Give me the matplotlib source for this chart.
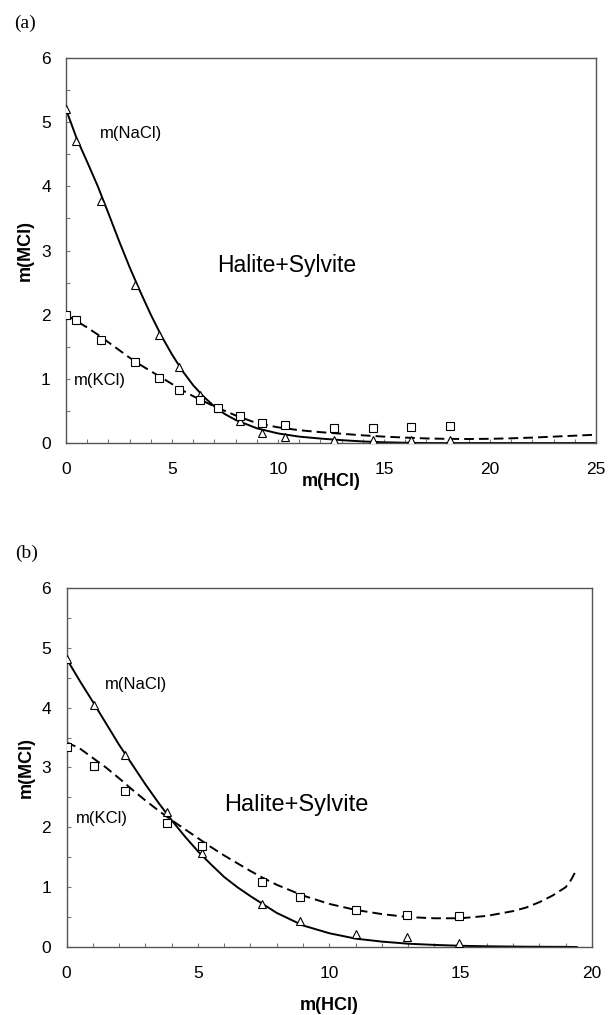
import matplotlib
matplotlib.use("Agg")
import matplotlib.pyplot as plt
from matplotlib.ticker import MultipleLocator

plt.rcParams['font.family'] = ['Liberation Sans', 'DejaVu Sans']

# ---------------- Panel (a) data ----------------
a_hcl = [0.0, 0.48, 1.66, 3.25, 4.39, 5.34, 6.31, 7.17, 8.19, 9.23, 10.35, 12.65, 14.48, 16.27, 18.1]
a_nacl = [5.2, 4.71, 3.78, 2.46, 1.68, 1.19, 0.75, 0.54, 0.34, 0.16, 0.10, 0.05, 0.04, 0.05, 0.05]
a_kcl = [1.99, 1.91, 1.61, 1.27, 1.02, 0.83, 0.67, 0.54, 0.42, 0.32, 0.28, 0.24, 0.23, 0.25, 0.27]

a_fit_x = [0, 0.5, 1, 1.5, 2, 2.5, 3, 3.5, 4, 4.5, 5, 5.5, 6, 6.5, 7, 7.5, 8, 9, 10, 11, 12, 13,
           14, 15, 16, 17, 18, 19, 20, 21, 22, 23, 24, 25]
a_fit_nacl = [5.2, 4.75, 4.38, 4.0, 3.58, 3.15, 2.74, 2.36, 2.0, 1.67, 1.38, 1.12, 0.9, 0.72, 0.57,
              0.45, 0.36, 0.23, 0.15, 0.10, 0.07, 0.045, 0.025, 0.012, 0.005, 0.0, 0.0, 0.0,
              0.0, 0.0, 0.0, 0.0, 0.0, 0.0]
a_fit_kcl = [2.0, 1.9, 1.8, 1.69, 1.57, 1.45, 1.33, 1.22, 1.12, 1.02, 0.92, 0.82, 0.73, 0.65, 0.57,
             0.5, 0.43, 0.31, 0.245, 0.2, 0.17, 0.145, 0.12, 0.1, 0.085, 0.072, 0.065, 0.063,
             0.066, 0.074, 0.085, 0.1, 0.115, 0.13]

# ---------------- Panel (b) data ----------------
b_hcl = [0.0, 1.06, 2.24, 3.83, 5.16, 7.44, 8.89, 11.02, 12.94, 14.93]
b_nacl = [4.82, 4.05, 3.21, 2.26, 1.57, 0.72, 0.44, 0.21, 0.16, 0.07]
b_kcl = [3.34, 3.02, 2.61, 2.08, 1.68, 1.09, 0.84, 0.62, 0.53, 0.52]

b_fit_x = [0, 0.5, 1, 1.5, 2, 2.5, 3, 3.5, 4, 4.5, 5, 5.5, 6, 6.5, 7, 7.5, 8, 9, 10, 11, 12, 13,
           14, 15, 16, 17, 17.5, 18, 18.5, 19, 19.2, 19.42]
b_fit_nacl = [4.82, 4.45, 4.1, 3.74, 3.38, 3.05, 2.72, 2.41, 2.12, 1.85, 1.6, 1.38, 1.17, 1.0, 0.85,
              0.71, 0.57, 0.36, 0.23, 0.14, 0.09, 0.055, 0.035, 0.02, 0.012, 0.007, 0.005,
              0.004, 0.003, 0.002, 0.001, 0.0]
b_fit_kcl = [3.42, 3.32, 3.16, 3.0, 2.82, 2.63, 2.45, 2.28, 2.12, 1.97, 1.82, 1.67, 1.53, 1.4, 1.27,
             1.15, 1.04, 0.86, 0.72, 0.62, 0.55, 0.5, 0.48, 0.48, 0.52, 0.6, 0.66, 0.75, 0.86,
             1.0, 1.12, 1.3]

x_label = "m(HCl)"
y_label = "m(MCl)"

fig = plt.figure(figsize=(6.08, 10.15), dpi=100)
axA = fig.add_axes([0.1086, 0.5635, 0.8717, 0.3793])
axB = fig.add_axes([0.1094, 0.0670, 0.8643, 0.3537])

spine_col = '#555555'
dash = (0, (5, 2.6))


def style(ax, xmax, xlab_y):
    ax.set_xlim(0, xmax)
    ax.set_ylim(0, 6)
    ax.xaxis.set_major_locator(MultipleLocator(5))
    ax.xaxis.set_minor_locator(MultipleLocator(1))
    ax.yaxis.set_major_locator(MultipleLocator(1))
    ax.yaxis.set_minor_locator(MultipleLocator(0.5))
    ax.tick_params(which='both', direction='in', length=3, width=0.8, color='#777777',
                   labelsize=12.5)
    ax.tick_params(axis='x', which='both', pad=14)
    ax.tick_params(axis='y', which='both', pad=11)
    for s in ax.spines.values():
        s.set_color(spine_col)
        s.set_linewidth(1.0)
    ax.set_xlabel(x_label, fontsize=13, fontweight='bold', va='center')
    ax.xaxis.set_label_coords(0.5, xlab_y)
    ax.set_ylabel(y_label, fontsize=13, fontweight='bold')
    ax.yaxis.label.set_va('center')
    ax.yaxis.set_label_coords(-0.077, 0.5)


mk = dict(markerfacecolor='white', markeredgecolor='black', markeredgewidth=0.8,
          linestyle='none', zorder=3)

# Panel (a)
axA.plot(a_fit_x, a_fit_nacl, color='black', lw=1.4, zorder=2)
axA.plot(a_fit_x, a_fit_kcl, color='black', lw=1.4, linestyle=dash, zorder=2)
axA.plot(a_hcl, a_nacl, marker='^', markersize=5.5, **mk)
axA.plot(a_hcl, a_kcl, marker='s', markersize=5.2, **mk)
axA.text(3.07, 4.82, "m(NaCl)", fontsize=12, ha='center', va='center')
axA.text(1.6, 0.98, "m(KCl)", fontsize=12, ha='center', va='center')
axA.text(10.4, 2.77, "Halite+Sylvite", fontsize=16.5, ha='center', va='center')
style(axA, 25, -0.101)

# Panel (b)
axB.plot(b_fit_x, b_fit_nacl, color='black', lw=1.4, zorder=2)
axB.plot(b_fit_x, b_fit_kcl, color='black', lw=1.4, linestyle=dash, zorder=2)
axB.plot(b_hcl, b_nacl, marker='^', markersize=5.5, **mk)
axB.plot(b_hcl, b_kcl, marker='s', markersize=5.2, **mk)
axB.text(2.65, 4.39, "m(NaCl)", fontsize=12, ha='center', va='center')
axB.text(1.36, 2.15, "m(KCl)", fontsize=12, ha='center', va='center')
axB.text(8.74, 2.38, "Halite+Sylvite", fontsize=17, ha='center', va='center')
style(axB, 20, -0.1616)

fig.text(0.041, 0.977, "(a)", family='Liberation Serif', fontsize=14, ha='center', va='center')
fig.text(0.044, 0.455, "(b)", family='Liberation Serif', fontsize=14, ha='center', va='center')

fig.savefig("out.png", dpi=100)
